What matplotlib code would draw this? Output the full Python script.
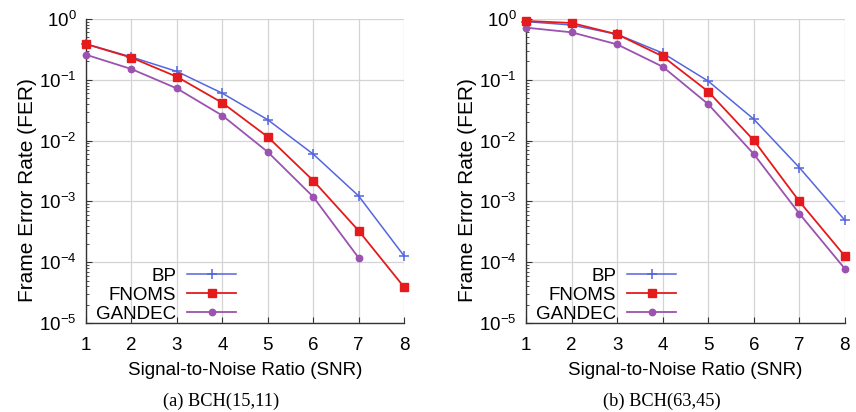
import matplotlib
matplotlib.use("Agg")
import matplotlib.pyplot as plt
from matplotlib.ticker import LogLocator, NullFormatter

plt.rcParams["font.family"] = ["Liberation Sans", "DejaVu Sans"]
plt.rcParams["mathtext.fontset"] = "custom"
plt.rcParams["mathtext.rm"] = "Liberation Sans"
plt.rcParams["mathtext.it"] = "Liberation Sans:italic"

snr = [1, 2, 3, 4, 5, 6, 7, 8]

# (a) BCH(15,11)
bp_a = [0.387, 0.237, 0.137, 0.060, 0.022, 0.0060, 0.00123, 1.27e-4]
fnoms_a = [0.387, 0.231, 0.112, 0.0418, 0.0115, 0.0022, 3.3e-4, 3.9e-5]
gandec_a = [0.258, 0.150, 0.072, 0.0258, 0.0065, 0.00119, 1.18e-4]

# (b) BCH(63,45)
bp_b = [0.904, 0.796, 0.559, 0.275, 0.095, 0.0225, 0.0036, 4.9e-4]
fnoms_b = [0.927, 0.859, 0.559, 0.243, 0.064, 0.0101, 0.0010, 1.26e-4]
gandec_b = [0.72, 0.603, 0.382, 0.164, 0.0397, 0.0060, 6.3e-4, 7.8e-5]

captions = ["(a) BCH(15,11)", "(b) BCH(63,45)"]

BLUE = "#5566dd"
RED = "#e41a1c"
PURPLE = "#9b52b0"

fig = plt.figure(figsize=(8.56, 4.12), dpi=100)
ax_a = fig.add_axes([0.1005, 0.216, 0.3715, 0.738])
ax_b = fig.add_axes([0.6145, 0.216, 0.3725, 0.738])

panels = [
    (ax_a, bp_a, fnoms_a, gandec_a),
    (ax_b, bp_b, fnoms_b, gandec_b),
]

for ax, bp, fnoms, gandec in panels:
    ax.plot(snr[:len(bp)], bp, color=BLUE, lw=1.1, marker="+", ms=6.5,
            mew=1.1, label="BP", clip_on=False, zorder=3)
    ax.plot(snr[:len(fnoms)], fnoms, color=RED, lw=1.3, marker="s", ms=5.4,
            label="FNOMS", clip_on=False, zorder=4)
    ax.plot(snr[:len(gandec)], gandec, color=PURPLE, lw=1.3, marker="o",
            ms=4.6, label="GANDEC", clip_on=False, zorder=3)

    ax.set_yscale("log")
    ax.set_xlim(1, 8)
    ax.set_ylim(1e-5, 1)
    ax.set_xticks(snr)
    ax.yaxis.set_major_locator(LogLocator(base=10, numticks=10))
    ax.yaxis.set_minor_locator(LogLocator(base=10, subs=range(2, 10), numticks=10))
    ax.yaxis.set_minor_formatter(NullFormatter())

    ax.grid(True, which="major", color="#d4d4d4", lw=0.9)
    ax.spines["top"].set_visible(False)
    ax.spines["right"].set_visible(False)
    for side in ("left", "bottom"):
        ax.spines[side].set_color("#333333")
        ax.spines[side].set_linewidth(1.0)
    ax.tick_params(which="major", direction="in", length=4, width=0.8,
                   labelsize=13.5, pad=7, colors="#333333", labelcolor="black")
    ax.tick_params(axis="x", which="major", pad=10)
    ax.tick_params(which="minor", direction="in", length=2, width=0.6,
                   colors="#333333")

    ax.set_xlabel("Signal-to-Noise Ratio (SNR)", fontsize=13.5, labelpad=6)
    ax.set_ylabel("Frame Error Rate (FER)", fontsize=15)
    ax.yaxis.set_label_coords(-0.155, 0.4375)

    ax.legend(loc="lower left", frameon=False, markerfirst=False, fontsize=13.5,
              handlelength=2.6, handletextpad=0.6, labelspacing=0.1,
              borderpad=0, borderaxespad=0, bbox_to_anchor=(0.031, 0.0))

serif = ["Liberation Serif", "DejaVu Serif"]
fig.text(0.258, 0.027, captions[0], ha="center", va="center",
         fontsize=13.2, family=serif)
fig.text(0.773, 0.027, captions[1], ha="center", va="center",
         fontsize=13.2, family=serif)

fig.savefig("out.png", dpi=100)
